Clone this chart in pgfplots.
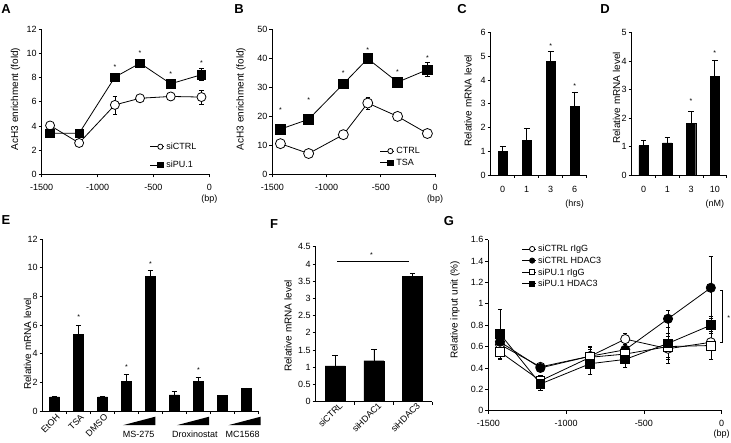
\documentclass[border=0pt]{standalone}
\usepackage{pgfplots}
\pgfplotsset{compat=1.18}
\usepackage{fontspec}
\setmainfont{Liberation Sans}

\tikzset{sig/.style={font=\fontsize{7}{7}\selectfont, inner sep=0pt, yshift=-1.5pt}}
\pgfplotsset{
  base/.style={
    scale only axis, anchor=south west, clip=false, enlargelimits=false,
    axis x line=bottom, axis y line=left,
    axis line style={-, line width=0.8pt},
    every tick/.style={black, line width=0.8pt},
    tick align=outside, major tick length=3pt, minor tick length=3pt,
    tick label style={font=\fontsize{9}{9}\selectfont},
    yticklabel style={xshift=1.5pt},
    /pgf/number format/assume math mode=true,
  },
  barpanel/.style={base, ybar, major x tick style={draw=none}},
  linepanel/.style={
    base, xmin=-1500, xmax=0,
    xtick={-1500,-1000,-500,0}, xticklabels={-1500,-1000,-500,0},
    xticklabel style={yshift=-3pt},
    legend style={draw=none, fill=none, inner sep=0pt, outer sep=0pt,
      cells={anchor=west}, font=\fontsize{9}{9}\selectfont,
      nodes={inner sep=1.5pt, text height=6.3pt, text depth=0.5pt}},
    legend image code/.code={
      \draw[##1, mark=none] (0pt,0pt) -- (14pt,0pt);
      \draw[##1] plot coordinates {(10pt,0pt)};},
    legend image post style={mark size=2.6pt},
  },
  ln/.style={black, line width=0.8pt, mark options={solid, black, line width=0.8pt},
    error bars/y dir=both, error bars/y explicit,
    error bars/error bar style={line width=0.6pt, black},
    error bars/error mark options={rotate=90, mark size=2.2pt, line width=0.6pt, black}},
  br/.style={fill=black, draw=black,
    error bars/y dir=plus, error bars/y explicit,
    error bars/error bar style={line width=0.7pt, black},
    error bars/error mark options={rotate=90, mark size=2.8pt, line width=0.7pt, black}},
}

\begin{document}
\begin{tikzpicture}
\path[use as bounding box] (0pt,0pt) rectangle (731pt,443pt);

% ---- panel letters and y labels
\begin{scope}[every node/.style={font=\fontsize{13}{13}\selectfont\bfseries}]
\node at (6pt,433.5pt) {A};
\node at (239pt,433.5pt) {B};
\node at (462pt,434pt) {C};
\node at (605pt,434pt) {D};
\node at (6pt,223pt) {E};
\node at (274pt,219pt) {F};
\node at (449pt,222pt) {G};
\end{scope}
\begin{scope}[every node/.style={rotate=90, font=\fontsize{10}{10}\selectfont}]
\node at (15.5pt,344pt) {AcH3 enrichment (fold)};
\node at (241pt,344pt) {AcH3 enrichment (fold)};
\node at (468pt,342pt) {Relative mRNA level};
\node at (616.5pt,345pt) {Relative mRNA level};
\node at (27.5pt,99pt) {Relative mRNA level};
\node at (288pt,117pt) {Relative mRNA level};
\node at (455pt,133pt) {Relative input unit (\%)};
\end{scope}

% ---- A
\begin{axis}[linepanel, at={(41.7pt,268.6pt)}, width=167.6pt, height=145pt,
  ymin=0, ymax=12, ytick={0,2,...,12},
  legend style={at={(axis cs:-531,1.53)}, anchor=west, row sep=8.5pt}]
\addplot[ln, mark=*, mark size=4.5pt, mark options={fill=white}]
  table[x=x, y=y, y error=e, row sep=\\] {x y e\\
  -1425 4.05 0.1\\ -1165 2.6 0.1\\ -845 5.75 0.75\\ -620 6.3 0.1\\ -345 6.45 0.15\\ -70 6.4 0.6\\};
\addlegendentry{siCTRL}
\addplot[ln, mark=square*, mark size=4.2pt, mark options={fill=black}]
  table[x=x, y=y, y error=e, row sep=\\] {x y e\\
  -1425 3.4 0.1\\ -1165 3.4 0.15\\ -845 8.05 0.3\\ -620 9.2 0.2\\ -345 7.5 0.2\\ -70 8.25 0.5\\};
\addlegendentry{siPU.1}
\node[sig] at (axis cs:-845,9.04) {*};
\node[sig] at (axis cs:-620,10.14) {*};
\node[sig] at (axis cs:-345,8.4) {*};
\node[sig] at (axis cs:-70,9.31) {*};
\node[anchor=north, font=\fontsize{9}{9}\selectfont, yshift=-17.5pt] at (axis cs:0,0) {(bp)};
\end{axis}

% ---- B
\begin{axis}[linepanel, at={(272.3pt,268.6pt)}, width=162.7pt, height=145pt,
  ymin=0, ymax=50, ytick={0,10,...,50},
  legend style={at={(axis cs:-507,6.04)}, anchor=west, row sep=1.8pt}]
\addplot[ln, mark=*, mark size=5pt, mark options={fill=white}]
  table[x=x, y=y, y error=e, row sep=\\] {x y e\\
  -1425 10.6 0.5\\ -1165 7.2 0.5\\ -845 13.7 0.7\\ -620 24.6 2.1\\ -345 20.0 0.8\\ -70 14.1 0.7\\};
\addlegendentry{CTRL}
\addplot[ln, mark=square*, mark size=4.8pt, mark options={fill=black}]
  table[x=x, y=y, y error=e, row sep=\\] {x y e\\
  -1425 15.6 1.2\\ -1165 19.0 1.6\\ -845 31.2 1.2\\ -620 39.9 1.0\\ -345 31.8 1.0\\ -70 36.1 2.4\\};
\addlegendentry{TSA}
\node[sig] at (axis cs:-1425,22.6) {*};
\node[sig] at (axis cs:-1165,26) {*};
\node[sig] at (axis cs:-845,35.3) {*};
\node[sig] at (axis cs:-620,43.4) {*};
\node[sig] at (axis cs:-345,35.9) {*};
\node[sig] at (axis cs:-70,40.5) {*};
\node[anchor=north, font=\fontsize{9}{9}\selectfont, yshift=-17.5pt] at (axis cs:0,0) {(bp)};
\end{axis}

% ---- C
\begin{axis}[barpanel, at={(490.7pt,268pt)}, width=96pt, height=142.3pt,
  ymin=0, ymax=6, ytick={0,...,6},
  xmin=-0.5, xmax=3.5, xtick={0,1,2,3}, xticklabels={0,1,3,6},
  minor xtick={0.5,1.5,2.5,3.5}, xticklabel style={yshift=-5pt}]
\addplot[br, bar width=9.3pt] table[x=x, y=y, y error=e, row sep=\\] {x y e\\
  0 1.0 0.22\\ 1 1.47 0.48\\ 2 4.78 0.42\\ 3 2.9 0.6\\};
\node[sig] at (axis cs:2,5.51) {*};
\node[sig] at (axis cs:3,3.83) {*};
\node[anchor=north, font=\fontsize{9}{9}\selectfont, yshift=-21pt] at (axis cs:3,0) {(hrs)};
\end{axis}

% ---- D
\begin{axis}[barpanel, at={(631.7pt,268pt)}, width=95pt, height=142.6pt,
  ymin=0, ymax=5, ytick={0,...,5},
  xmin=-0.5, xmax=3.5, xtick={0,1,2,3}, xticklabels={0,1,3,10},
  minor xtick={0.5,1.5,2.5,3.5}, xticklabel style={yshift=-5pt}]
\addplot[br, bar width=9.3pt] table[x=x, y=y, y error=e, row sep=\\] {x y e\\
  0 1.03 0.18\\ 1 1.13 0.2\\ 2 1.82 0.42\\ 3 3.45 0.58\\};
\node[sig] at (axis cs:2,2.66) {*};
\node[sig] at (axis cs:3,4.33) {*};
\node[anchor=north, font=\fontsize{9}{9}\selectfont, yshift=-21pt] at (axis cs:3,0) {(nM)};
\end{axis}

% ---- E
\begin{axis}[barpanel, at={(42.7pt,31.8pt)}, width=215.6pt, height=172pt,
  ymin=0, ymax=12, ytick={0,2,...,12},
  xmin=0.5, xmax=9.5, xtick={1,2,3}, xticklabels={EtOH,TSA,DMSO},
  minor xtick={1.5,2.5,...,9.5},
  xticklabel style={rotate=45, anchor=north east, xshift=5pt, yshift=3pt}]
\addplot[br, bar width=10pt] table[x=x, y=y, y error=e, row sep=\\] {x y e\\
  1 1.0 0.04\\ 2 5.36 0.6\\ 3 1.0 0.06\\ 4 2.07 0.5\\ 5 9.4 0.4\\
  6 1.14 0.25\\ 7 2.07 0.32\\ 8 1.09 0.03\\ 9 1.58 0.04\\};
\node[sig] at (axis cs:2,6.66) {*};
\node[sig] at (axis cs:4,3.18) {*};
\node[sig] at (axis cs:5,10.4) {*};
\node[sig] at (axis cs:7,2.99) {*};
% dose wedges
\fill[black] ([yshift=-14pt]axis cs:3.85,0) -- ([yshift=-14pt]axis cs:5.2,0) -- ([yshift=-5.5pt]axis cs:5.2,0) -- cycle;
\fill[black] ([yshift=-14pt]axis cs:6.1,0) -- ([yshift=-14pt]axis cs:7.45,0) -- ([yshift=-5.5pt]axis cs:7.45,0) -- cycle;
\fill[black] ([yshift=-14pt]axis cs:8.25,0) -- ([yshift=-14pt]axis cs:9.6,0) -- ([yshift=-5.5pt]axis cs:9.6,0) -- cycle;
\node[anchor=base, font=\fontsize{9}{9}\selectfont, yshift=-26pt] at (axis cs:4.5,0) {MS-275};
\node[anchor=base, font=\fontsize{9}{9}\selectfont, yshift=-26pt] at (axis cs:6.85,0) {Droxinostat};
\node[anchor=base, font=\fontsize{9}{9}\selectfont, yshift=-26pt] at (axis cs:8.85,0) {MC1568};
\end{axis}

% ---- F
\begin{axis}[barpanel, at={(315.7pt,41.3pt)}, width=116.3pt, height=155pt,
  ymin=0, ymax=4.5, ytick={0,0.5,...,4.5},
  xmin=-0.5, xmax=2.5, xtick={0,1,2}, xticklabels={siCTRL,siHDAC1,siHDAC3},
  minor xtick={0.5,1.5,2.5},
  xticklabel style={rotate=45, anchor=north east, xshift=8pt, yshift=3pt}]
\addplot[br, bar width=20pt] table[x=x, y=y, y error=e, row sep=\\] {x y e\\
  0 1.04 0.32\\ 1 1.19 0.33\\ 2 3.63 0.09\\};
\draw[line width=0.8pt] (axis cs:0.05,4.07) -- (axis cs:1.9,4.07);
\node[sig] at (axis cs:0.94,4.3) {*};
\end{axis}

% ---- G
\begin{axis}[linepanel, at={(488.3pt,32.3pt)}, width=233.4pt, height=171pt,
  ymin=0, ymax=1.6, ytick={0,0.2,...,1.6},
  legend style={at={(axis cs:-1285,1.35)}, anchor=west, row sep=1.8pt}]
\addplot[ln, mark=*, mark size=4.6pt, mark options={fill=white}]
  table[x=x, y=y, y error=e, row sep=\\] {x y e\\
  -1425 0.62 0.1\\ -1165 0.41 0.03\\ -845 0.51 0.08\\ -620 0.67 0.05\\ -345 0.58 0.14\\ -70 0.64 0.16\\};
\addlegendentry{siCTRL rIgG}
\addplot[ln, mark=*, mark size=4.6pt, mark options={fill=black}]
  table[x=x, y=y, y error=e, row sep=\\] {x y e\\
  -1425 0.645 0.1\\ -1165 0.40 0.03\\ -845 0.51 0.06\\ -620 0.57 0.05\\ -345 0.86 0.08\\ -70 1.15 0.29\\};
\addlegendentry{siCTRL HDAC3}
\addplot[ln, mark=square*, mark size=4.4pt, mark options={fill=white}]
  table[x=x, y=y, y error=e, row sep=\\] {x y e\\
  -1425 0.55 0.07\\ -1165 0.28 0.05\\ -845 0.50 0.1\\ -620 0.53 0.05\\ -345 0.60 0.1\\ -70 0.61 0.13\\};
\addlegendentry{siPU.1 rIgG}
\addplot[ln, mark=square*, mark size=4.4pt, mark options={fill=black}]
  table[x=x, y=y, y error=e, row sep=\\] {x y e\\
  -1425 0.72 0.23\\ -1165 0.25 0.06\\ -845 0.44 0.1\\ -620 0.48 0.07\\ -345 0.63 0.15\\ -70 0.80 0.08\\};
\addlegendentry{siPU.1 HDAC3}
\draw[line width=0.8pt] (axis cs:-12,1.13) -- (axis cs:6,1.13) -- (axis cs:6,0.635) -- (axis cs:-12,0.635);
\node[sig] at (axis cs:45,0.88) {*};
\node[anchor=north, font=\fontsize{9}{9}\selectfont, yshift=-16pt] at (axis cs:0,0) {(bp)};
\end{axis}
\end{tikzpicture}
\end{document}
